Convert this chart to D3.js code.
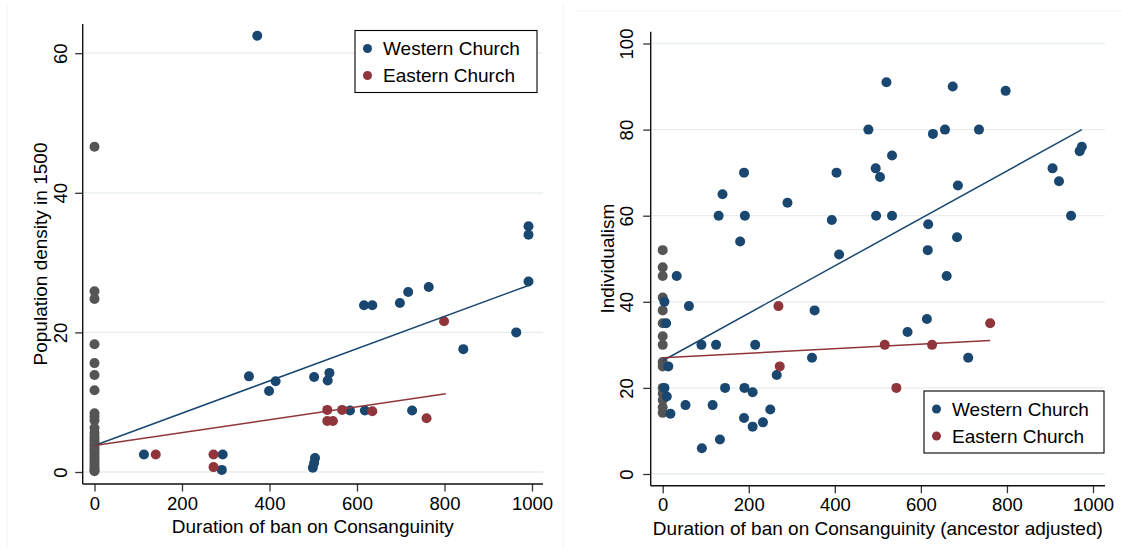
<!DOCTYPE html>
<html>
<head>
<meta charset="utf-8">
<script src="https://cdn.jsdelivr.net/npm/d3@7"></script>
<style>
  body { margin: 0; background: #fff; }
  svg text { font-family: "Liberation Sans", Arial, sans-serif; fill: #000; }
</style>
</head>
<body>
<div id="chart"></div>
<script>
var svgWidth = 1122;
var svgHeight = 559;

// ---- left panel data: population density in 1500
var leftOtherY = [46.6, 25.9, 24.8, 18.3, 15.6, 13.9, 11.7, 8.4, 7.9, 7.4, 6.3, 5.6, 5.0,
  4.6, 4.2, 3.8, 3.4, 3.0, 2.6, 2.2, 1.8, 1.4, 1.0, 0.6, 0.3, 0.1];
var leftWestX = [113, 293, 291, 353, 399, 414, 502, 537, 533, 499, 502, 504, 584, 618, 616,
  635, 698, 717, 764, 726, 843, 964, 992, 992, 992, 372];
var leftWestY = [2.5, 2.5, 0.3, 13.7, 11.6, 13.0, 13.6, 14.2, 13.1, 0.6, 1.3, 2.0, 8.8, 8.8, 23.9,
  23.9, 24.2, 25.8, 26.5, 8.8, 17.6, 20.0, 27.3, 35.2, 34.0, 62.5];
var leftEastX = [140, 272, 272, 532, 566, 532, 545, 635, 759, 799];
var leftEastY = [2.5, 2.5, 0.7, 8.9, 8.9, 7.3, 7.3, 8.7, 7.7, 21.6];
var leftWestFit = [[0, 3.8], [995, 26.8]];
var leftEastFit = [[0, 3.8], [803, 11.2]];
var leftXTicks = [0, 200, 400, 600, 800, 1000];
var leftYTicks = [0, 20, 40, 60];

// ---- right panel data: individualism
var rightOtherY = [52, 48, 46, 41, 38, 35, 32, 30, 26, 25, 20, 18.7, 17.2, 15.5, 14.2];
var rightWestX = [4, 8, 4, 9.5, 13, 18, 32.5, 61, 53, 90, 124, 215, 145, 190, 209, 116, 189,
  209, 233, 250, 91, 133, 265, 347, 353, 569, 614, 710, 660,
  130, 139, 180, 189, 191, 290, 393, 404, 410, 478, 495, 505, 496, 520, 533, 533, 617, 616,
  628, 656, 674, 686, 684, 735, 797, 906, 921, 949, 969, 974];
var rightWestY = [40, 35, 20, 18, 25, 14, 46, 39, 16, 30, 30, 30, 20, 20, 19, 16, 13,
  11, 12, 15, 6, 8, 23, 27, 38, 33, 36, 27, 46,
  60, 65, 54, 70, 60, 63, 59, 70, 51, 80, 71, 69, 60, 91, 74, 60, 58, 52,
  79, 80, 90, 67, 55, 80, 89, 71, 68, 60, 75, 76];
var rightEastX = [269, 272, 516, 543, 626, 761];
var rightEastY = [39, 25, 30, 20, 30, 35];
var rightWestFit = [[0, 26.3], [974, 80]];
var rightEastFit = [[0, 27], [761, 31]];
var rightXTicks = [0, 200, 400, 600, 800, 1000];
var rightYTicks = [0, 20, 40, 60, 80, 100];

var seriesNames = ["Western Church", "Eastern Church"];

var westColor = "#1a476f";
var eastColor = "#90353b";
var otherColor = "#555555";

var svg = d3
  .select("#chart")
  .append("svg")
  .attr("width", svgWidth)
  .attr("height", svgHeight);

// faint outer borders of the two graph regions
svg.append("line").attr("x1", 7).attr("x2", 7).attr("y1", 4).attr("y2", 548)
  .attr("stroke", "#f2f2f2");
svg.append("line").attr("x1", 563).attr("x2", 563).attr("y1", 4).attr("y2", 548)
  .attr("stroke", "#f2f2f2");
svg.append("line").attr("x1", 577).attr("x2", 1122).attr("y1", 11).attr("y2", 11)
  .attr("stroke", "#f2f2f2");

function drawPanel(p) {
  var g = svg.append("g");

  var xScale = d3.scaleLinear().domain([0, 1000]).range(p.xRange);
  var yScale = d3.scaleLinear().domain([0, p.yMax]).range(p.yRange);

  // gridlines
  g.selectAll(".grid")
    .data(p.yTicks)
    .enter()
    .append("line")
    .attr("x1", p.left)
    .attr("x2", p.right)
    .attr("y1", d => yScale(d))
    .attr("y2", d => yScale(d))
    .attr("stroke", "#e6eef1")
    .attr("stroke-width", 1.3);

  // y axis
  var leftAxis = d3.axisLeft(yScale).tickValues(p.yTicks).tickFormat(d3.format("d"))
    .tickSize(7.5).tickPadding(4);
  var yAxis = g.append("g")
    .attr("transform", `translate(${p.left}, 0)`)
    .call(leftAxis);
  yAxis.select(".domain").remove();
  yAxis.selectAll(".tick line").attr("stroke", "#333").attr("stroke-width", 1.3);
  yAxis.selectAll(".tick text")
    .attr("x", null).attr("dy", null)
    .attr("text-anchor", "middle")
    .attr("dominant-baseline", "central")
    .attr("transform", `translate(${p.yLabelX - p.left}, 0) rotate(-90)`)
    .style("font-size", "18.5px")
    .style("font-family", "'Liberation Sans', Arial, sans-serif")
    .attr("fill", "#000");

  g.append("line")
    .attr("x1", p.left).attr("x2", p.left)
    .attr("y1", p.top).attr("y2", p.bottom)
    .attr("stroke", "#111").attr("stroke-width", 1.4);

  // x axis
  var bottomAxis = d3.axisBottom(xScale).tickValues(p.xTicks).tickFormat(d3.format("d"))
    .tickSize(7.5).tickPadding(5);
  var xAxis = g.append("g")
    .attr("transform", `translate(0, ${p.bottom})`)
    .call(bottomAxis);
  xAxis.select(".domain").remove();
  xAxis.selectAll(".tick line").attr("stroke", "#333").attr("stroke-width", 1.3);
  xAxis.selectAll(".tick text")
    .style("font-size", "18.5px")
    .style("font-family", "'Liberation Sans', Arial, sans-serif")
    .attr("fill", "#000");

  g.append("line")
    .attr("x1", p.left).attr("x2", p.right)
    .attr("y1", p.bottom).attr("y2", p.bottom)
    .attr("stroke", "#111").attr("stroke-width", 1.4);

  // axis titles
  g.append("text")
    .attr("x", (p.left + p.right) / 2)
    .attr("y", p.bottom + 49)
    .attr("text-anchor", "middle")
    .style("font-size", "19px")
    .text(p.xTitle);

  g.append("text")
    .attr("transform", `translate(${p.yTitleX}, ${(p.top + p.bottom) / 2}) rotate(-90)`)
    .attr("text-anchor", "middle")
    .attr("dominant-baseline", "central")
    .style("font-size", "19px")
    .text(p.yTitle);

  // points
  g.selectAll(".other")
    .data(p.otherY)
    .enter()
    .append("circle")
    .attr("cx", xScale(0))
    .attr("cy", d => yScale(d))
    .attr("r", 5)
    .attr("fill", otherColor);

  var west = p.westX.map((x, i) => [x, p.westY[i]]);
  var east = p.eastX.map((x, i) => [x, p.eastY[i]]);

  g.selectAll(".west")
    .data(west)
    .enter()
    .append("circle")
    .attr("cx", d => xScale(d[0]))
    .attr("cy", d => yScale(d[1]))
    .attr("r", 5)
    .attr("fill", westColor);

  g.selectAll(".east")
    .data(east)
    .enter()
    .append("circle")
    .attr("cx", d => xScale(d[0]))
    .attr("cy", d => yScale(d[1]))
    .attr("r", 5)
    .attr("fill", eastColor);

  // fitted lines
  var line = d3.line().x(d => xScale(d[0])).y(d => yScale(d[1]));
  g.append("path").attr("d", line(p.westFit))
    .attr("fill", "none").attr("stroke", westColor).attr("stroke-width", 1.5);
  g.append("path").attr("d", line(p.eastFit))
    .attr("fill", "none").attr("stroke", eastColor).attr("stroke-width", 1.5);

  // legend
  var legend = g.append("g")
    .attr("transform", `translate(${p.legendX}, ${p.legendY})`);
  legend.append("rect")
    .attr("width", p.legendW).attr("height", 62)
    .attr("fill", "#fff").attr("stroke", "#000").attr("stroke-width", 1.1);
  seriesNames.forEach(function(name, i) {
    legend.append("circle")
      .attr("cx", 12.5).attr("cy", 18 + i * 27)
      .attr("r", 4.5)
      .attr("fill", i === 0 ? westColor : eastColor);
    legend.append("text")
      .attr("x", 28).attr("y", 18 + i * 27)
      .attr("dominant-baseline", "central")
      .style("font-size", "19px")
      .text(name);
  });
}

drawPanel({
  xRange: [94.5, 532], yMax: 60, yRange: [472, 53.2],
  left: 82.7, right: 543, top: 24, bottom: 484,
  yLabelX: 60, yTitleX: 40,
  xTicks: leftXTicks, yTicks: leftYTicks,
  xTitle: "Duration of ban on Consanguinity",
  yTitle: "Population density in 1500",
  otherY: leftOtherY,
  westX: leftWestX, westY: leftWestY,
  eastX: leftEastX, eastY: leftEastY,
  westFit: leftWestFit, eastFit: leftEastFit,
  legendX: 355, legendY: 30.5, legendW: 182
});

drawPanel({
  xRange: [662.7, 1093], yMax: 100, yRange: [474, 43.5],
  left: 650.7, right: 1105, top: 31.7, bottom: 485.7,
  yLabelX: 626.5, yTitleX: 607,
  xTicks: rightXTicks, yTicks: rightYTicks,
  xTitle: "Duration of ban on Consanguinity (ancestor adjusted)",
  yTitle: "Individualism",
  otherY: rightOtherY,
  westX: rightWestX, westY: rightWestY,
  eastX: rightEastX, eastY: rightEastY,
  westFit: rightWestFit, eastFit: rightEastFit,
  legendX: 924, legendY: 391, legendW: 180
});
</script>
</body>
</html>
